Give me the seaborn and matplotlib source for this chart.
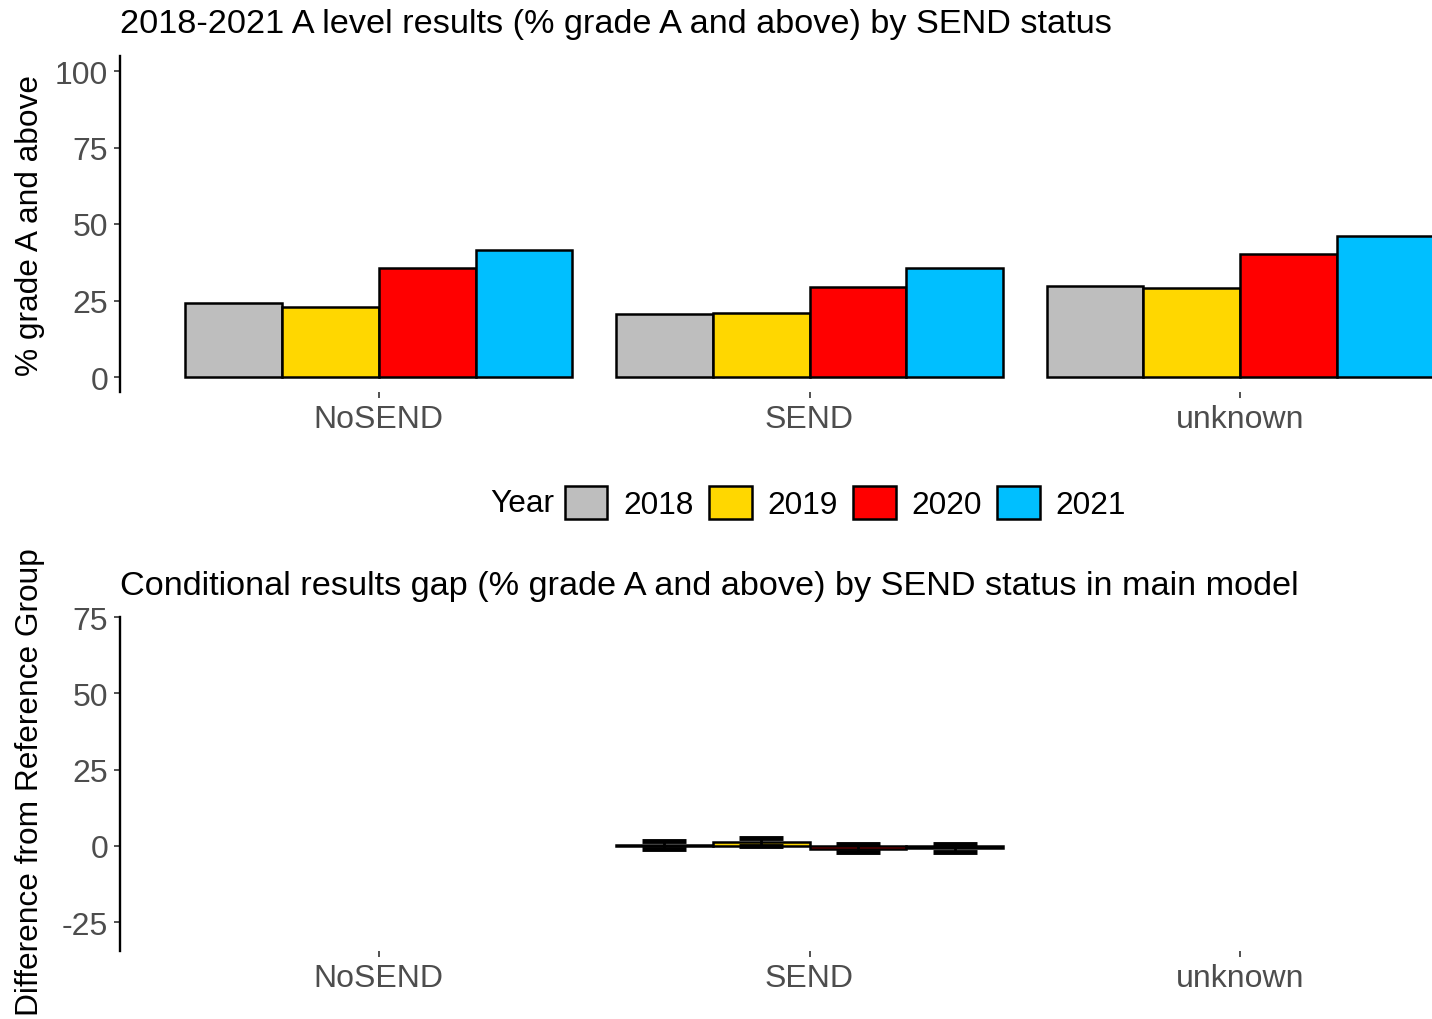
import numpy as np
import pandas as pd
import matplotlib
matplotlib.use("Agg")
import matplotlib.pyplot as plt
import seaborn as sns

# --- Data ---
groups = ["NoSEND", "SEND", "unknown"]
years = ["2018", "2019", "2020", "2021"]
colours = ["#BEBEBE", "#FFD700", "#FF0000", "#00BFFF"]

pct_nosend = [24.2, 22.9, 35.6, 41.5]
pct_send = [20.6, 20.9, 29.4, 35.6]
pct_unknown = [29.7, 29.1, 40.2, 46.1]

# gap model: only SEND has estimates (NoSEND is the reference)
gap_send = [0.3, 1.3, -1.0, -0.7]
gap_low = [-0.9, 0.1, -2.0, -1.9]
gap_high = [1.5, 2.6, 0.5, 0.5]

df_results = pd.DataFrame({
    "group": np.repeat(groups, 4),
    "Year": years * 3,
    "pct": pct_nosend + pct_send + pct_unknown,
})
df_gap = pd.DataFrame({"group": ["SEND"] * 4, "Year": years, "gap": gap_send})

sns.set_theme(style="white")
plt.rcParams["font.family"] = ["Liberation Sans", "DejaVu Sans"]
plt.rcParams["axes.unicode_minus"] = False
plt.rcParams["text.color"] = "black"
FS_TICK = 23
FS_LAB = 22.8
FS_TITLE = 24.7
FS_LEG = 22.8
TICK_COL = "#4D4D4D"

W, H = 1432, 1020
fig = plt.figure(figsize=(W / 100, H / 100), dpi=100)


def px_axes(left, right, top, bottom):
    return fig.add_axes([left / W, 1 - bottom / H, (right - left) / W, (bottom - top) / H])


def style(ax):
    for s in ["top", "right", "bottom"]:
        ax.spines[s].set_visible(False)
    ax.spines["left"].set_color("black")
    ax.spines["left"].set_linewidth(1.7)
    ax.tick_params(axis="both", which="both", length=4.5, width=1.2,
                   color="#333333", labelsize=FS_TICK, labelcolor=TICK_COL, pad=4,
                   left=True, bottom=True)
    ax.set_xlabel("")
    ax.set_facecolor("white")


# --- Top panel: raw results ---
ax1 = px_axes(120, 1499, 56.7, 393.3)
sns.barplot(data=df_results, x="group", y="pct", hue="Year", order=groups,
            hue_order=years, palette=colours, width=0.9, errorbar=None,
            edgecolor="black", linewidth=1.8, ax=ax1, saturation=1)
ax1.set_ylim(-5, 105)
ax1.set_xlim(-0.6, 2.6)
ax1.set_yticks([0, 25, 50, 75, 100])
ax1.set_ylabel("% grade A and above", fontsize=FS_LAB, color="black")
ax1.yaxis.set_label_coords(-75 / 1379, 0.5)
style(ax1)
sns.move_legend(ax1, "center left", bbox_to_anchor=(552 / W, 1 - 504 / H),
                bbox_transform=fig.transFigure, ncol=4, title=None, frameon=False,
                fontsize=FS_LEG, handlelength=1.35, handleheight=1.25,
                handletextpad=0.5, columnspacing=0.48, borderaxespad=0)
fig.text(490 / W, 1 - 504 / H, "Year", fontsize=FS_LEG, va="center", ha="left")
fig.text(120 / W, 1 - 33 / H,
         "2018-2021 A level results (% grade A and above) by SEND status",
         fontsize=FS_TITLE, va="baseline", ha="left")

# --- Bottom panel: conditional gap ---
ax2 = px_axes(120, 1499, 618, 952.3)
sns.barplot(data=df_gap, x="group", y="gap", hue="Year", order=groups,
            hue_order=years, palette=colours, width=0.9, errorbar=None,
            edgecolor="black", linewidth=1.8, ax=ax2, saturation=1, legend=False)
centres = sorted(set(round(p.get_x() + p.get_width() / 2, 6) for p in ax2.patches))[:4]
yerr = [np.array(gap_send) - np.array(gap_low), np.array(gap_high) - np.array(gap_send)]
ax2.errorbar(centres, gap_send, yerr=yerr, fmt="none", ecolor="black",
             elinewidth=2, capsize=16, capthick=3.5)
ax2.set_ylim(-34.5, 75)
ax2.set_xlim(-0.6, 2.6)
ax2.set_yticks([-25, 0, 25, 50, 75])
ax2.set_ylabel("Difference from Reference Group", fontsize=FS_LAB, color="black")
ax2.yaxis.set_label_coords(-75 / 1379, 0.51)
style(ax2)
fig.text(120 / W, 1 - 595 / H,
         "Conditional results gap (% grade A and above) by SEND status in main model",
         fontsize=FS_TITLE, va="baseline", ha="left")

fig.savefig("out.png", dpi=100)
